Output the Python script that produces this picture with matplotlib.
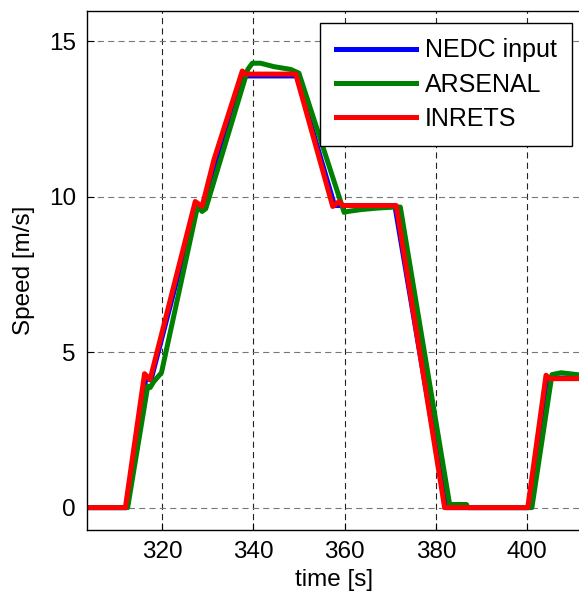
import matplotlib
matplotlib.use("Agg")
import matplotlib.pyplot as plt

# NEDC input (reference)
t_nedc = [303.6, 312.2, 316.5, 317.6, 327.5, 329.0, 338.0, 349.5, 357.8, 371.0, 382.2, 400.3, 404.3, 412.0]
v_nedc = [0.0, 0.0, 4.17, 4.10, 9.72, 9.72, 13.89, 13.89, 9.72, 9.72, 0.0, 0.0, 4.17, 4.17]

# ARSENAL
t_ars = [303.6, 312.5, 316.9, 317.4, 318.2, 319.9, 327.8, 328.8, 329.6, 338.8, 339.8, 341.6, 344.5, 348.2,
         350.0, 359.9, 360.7, 363.6, 367.3, 370.9, 372.2, 383.0, 386.7, 387.0, 401.0, 405.4, 407.4, 412.0]
v_ars = [0.0, 0.0, 3.91, 3.86, 4.05, 4.34, 9.69, 9.53, 9.62, 14.1, 14.3, 14.3, 14.19, 14.1,
         13.98, 9.50, 9.53, 9.59, 9.64, 9.67, 9.67, 0.1, 0.1, 0.0, 0.0, 4.28, 4.34, 4.26]

# INRETS
t_inr = [303.6, 312.0, 316.2, 317.4, 327.3, 328.8, 331.4, 337.6, 338.3, 349.3, 357.4, 358.8, 359.6,
         371.3, 381.9, 400.1, 404.1, 404.9, 412.0]
v_inr = [0.0, 0.0, 4.31, 4.12, 9.85, 9.69, 11.2, 14.05, 13.95, 13.95, 9.69, 9.85, 9.72,
         9.72, 0.0, 0.0, 4.26, 4.15, 4.15]

x_ticks = [320, 340, 360, 380, 400]
y_ticks = [0, 5, 10, 15]

plt.rcParams['font.family'] = ['Liberation Sans', 'DejaVu Sans']

fig = plt.figure(figsize=(5.79, 5.99), dpi=100)
ax_w = 1.003 - 87/579
ax = fig.add_axes([87/579, 1 - 530.3/599, ax_w, (530.3 - 11)/599])

lw = 3.6
ax.plot(t_nedc, v_nedc, color='#0000ff', lw=lw, label='NEDC input', solid_joinstyle='round')
ax.plot(t_ars, v_ars, color='#008000', lw=lw, label='ARSENAL', solid_joinstyle='round')
ax.plot(t_inr, v_inr, color='#ff0000', lw=lw, label='INRETS', solid_joinstyle='round')

ax.set_xlim(303.6, 411.7)
ax.set_ylim(-0.73, 15.98)
ax.set_xticks(x_ticks)
ax.set_yticks(y_ticks)
ax.tick_params(direction='in', length=5, width=0.8, labelsize=17.5, pad=8)
ax.tick_params(top=False, right=False)

ax.xaxis.grid(True, color='#222222', linestyle=(0, (5.5, 3.8)), linewidth=0.8)
ax.yaxis.grid(True, color='#777777', linestyle=(0, (5.5, 3.8)), linewidth=0.8)
ax.set_axisbelow(True)
for s in ax.spines.values():
    s.set_linewidth(1.0)

ax.set_xlabel('time [s]', fontsize=17.5, labelpad=4)
ax.set_ylabel('Speed [m/s]', fontsize=17.5, labelpad=10)

leg = ax.legend(loc='upper right', bbox_to_anchor=((572 - 87)/(ax_w*579), (530.3 - 23)/519.3),
                borderaxespad=0, fontsize=18, handlelength=3.2, handletextpad=0.35,
                labelspacing=0.4, borderpad=0.62, fancybox=False, framealpha=1,
                edgecolor='black')
leg.get_frame().set_linewidth(1.0)
for line in leg.get_lines():
    line.set_linewidth(3.6)

fig.savefig('out.png', dpi=100)
